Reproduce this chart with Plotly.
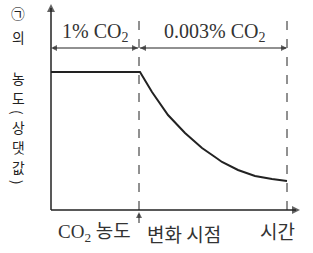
import plotly.graph_objects as go

# data (time in arbitrary units, concentration relative)
time = [0, 89, 101, 117, 134, 151, 164, 171, 187, 204, 221, 236]
conc = [138, 138, 118, 95, 77, 62, 53, 48, 40, 34, 31, 29]
t_change = 88
t_end = 236
ylabel_chars = ["㉠", "의", "농", "도", "(", "상", "댓", "값", ")"]
ylabel_pos = [197, 173, 132, 112, 98, 83, 63, 43, 28]
ylabel_angle = [0, 0, 0, 0, 90, 0, 0, 0, 90]

INK = "#222222"
SERIF = "Liberation Serif, Times New Roman, serif"
KR = "Noto Sans CJK KR, sans-serif"

y_top, x_right, y_span, y_dash = 206, 249, 162, 197

fig = go.Figure()
fig.add_trace(go.Scatter(x=time, y=conc, mode="lines",
                         line=dict(color=INK, width=2), cliponaxis=False,
                         hoverinfo="skip", showlegend=False))

def seg(x0, y0, x1, y1, w=1, dash=None):
    return dict(type="line", xref="x", yref="y", x0=x0, y0=y0, x1=x1, y1=y1,
                line=dict(color=INK, width=w, dash=dash))

shapes = [
    seg(t_change, 0, t_change, y_dash, 1, "dash"),
    seg(t_end, 0, t_end, y_dash, 1, "dash"),
    seg(0, 0, 0, y_top - 4, 1.5),
    seg(0, 0, x_right - 4, 0, 1.5),
    seg(2, y_span, t_change - 1, y_span, 1),
    seg(t_change + 1, y_span, t_end - 1, y_span, 1),
    seg(t_change, -4, t_change, -13, 1),
]

# arrowheads (tip positions)
head_x = [0, x_right, 0, t_change - 1, t_change + 1, t_end, t_change]
head_y = [y_top, 0, y_span, y_span, y_span, y_span, -2]
head_sym = ["arrow-up", "arrow-right", "arrow-left", "arrow-right", "arrow-left", "arrow-right", "arrow-up"]
head_size = [8, 8, 6, 6, 6, 6, 6]
fig.add_trace(go.Scatter(x=head_x, y=head_y, mode="markers", cliponaxis=False,
                         marker=dict(symbol=head_sym, size=head_size, color=INK,
                                     line=dict(width=0)),
                         hoverinfo="skip", showlegend=False))

ann = []
ann.append(dict(x=44, y=178, xref="x", yref="y", text="1% CO<sub>2</sub>", showarrow=False,
                font=dict(family=SERIF, size=20, color="#333")))
ann.append(dict(x=163, y=178, xref="x", yref="y", text="0.003% CO<sub>2</sub>", showarrow=False,
                font=dict(family=SERIF, size=20, color="#333")))
ann.append(dict(x=82, y=-23, xref="x", yref="y", text="CO<sub>2</sub> 농도", showarrow=False,
                xanchor="right", font=dict(family=SERIF + ", " + KR, size=19, color="#333")))
ann.append(dict(x=94, y=-23, xref="x", yref="y", text="변화 시점", showarrow=False,
                xanchor="left", font=dict(family=KR, size=19, color="#333")))
ann.append(dict(x=226, y=-20, xref="x", yref="y", text="시간", showarrow=False,
                font=dict(family=KR, size=19, color="#333")))
for ch, yp, ang in zip(ylabel_chars, ylabel_pos, ylabel_angle):
    ann.append(dict(x=-33, y=yp, xref="x", yref="y", text=ch, showarrow=False,
                    textangle=ang,
                    font=dict(family=KR, size=13.8, color="#222")))

fig.update_layout(
    width=313, height=253, autosize=False,
    margin=dict(l=0, r=0, t=0, b=0, pad=0),
    paper_bgcolor="white", plot_bgcolor="white",
    xaxis=dict(range=[-51, 262], visible=False, fixedrange=True),
    yaxis=dict(range=[-43, 210], visible=False, fixedrange=True),
    shapes=shapes, annotations=ann, showlegend=False,
)
fig.write_html("out.html", config={"displayModeBar": False},
               post_script="document.body.style.margin='0';")
